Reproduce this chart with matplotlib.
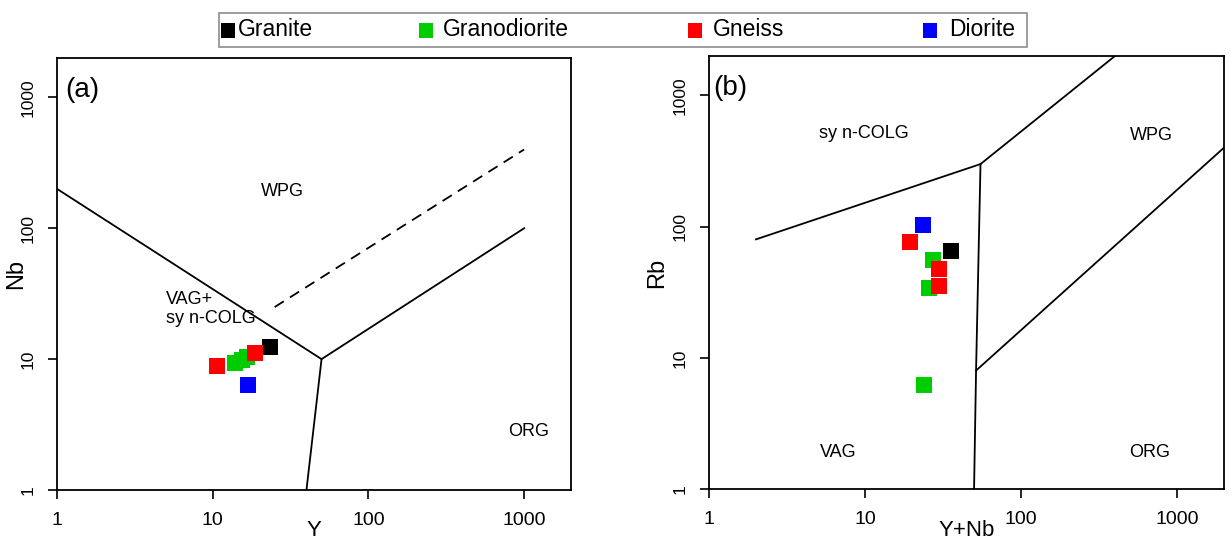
import numpy as np
import matplotlib
matplotlib.use("Agg")
import matplotlib.pyplot as plt
from matplotlib.patches import Rectangle

plt.rcParams['font.family'] = ['Liberation Sans', 'DejaVu Sans']

W, H = 1231, 542

rock_types = ["Granite", "Granodiorite", "Gneiss", "Diorite"]
rock_colors = ["#000000", "#00CD00", "#FF0000", "#0000FF"]

# (a) Nb vs Y
granite_Y = [23.3]
granite_Nb = [12.3]
granodiorite_Y = [14.0, 15.5, 16.7]
granodiorite_Nb = [9.3, 9.9, 10.4]
gneiss_Y = [10.6, 18.7]
gneiss_Nb = [8.8, 11.1]
diorite_Y = [16.9]
diorite_Nb = [6.3]

# (b) Rb vs Y+Nb
granite_YNb = [35.7]
granite_Rb = [64.8]
granodiorite_YNb = [27.4, 25.8, 23.8]
granodiorite_Rb = [56.0, 34.0, 6.2]
gneiss_YNb = [19.3, 29.9, 29.9]
gneiss_Rb = [76.0, 47.7, 35.0]
diorite_YNb = [23.4]
diorite_Rb = [103.6]

# Pearce et al. (1984) field boundaries
a_wpg_x = [1, 50, 1000]
a_wpg_y = [200, 10, 100]
a_org_x = [50, 40]
a_org_y = [10, 1]
a_dash_x = [25, 1000]
a_dash_y = [25, 400]

b_syn_x = [2, 55, 400]
b_syn_y = [80, 300, 2000]
b_vag_x = [55, 51.5, 50]
b_vag_y = [300, 8, 1]
b_org_x = [51.5, 2000]
b_org_y = [8, 400]


def fx(px):
    return px / W


def fy(py):
    return 1 - py / H


fig = plt.figure(figsize=(W / 100, H / 100), dpi=100)
ax1 = fig.add_axes([fx(57), fy(490), fx(571) - fx(57), fy(58) - fy(490)])
ax2 = fig.add_axes([fx(709), fy(489), fx(1224) - fx(709), fy(56) - fy(489)])

for ax in (ax1, ax2):
    ax.set_xscale('log')
    ax.set_yscale('log')
    ax.set_xlim(1, 2000)
    ax.set_ylim(1, 2000)
    ax.set_xticks([1, 10, 100, 1000])
    ax.set_xticklabels(["1", "10", "100", "1000"])
    ax.set_yticks([1, 10, 100, 1000])
    ax.set_yticklabels(["1", "10", "100", "1000"])
    ax.minorticks_off()
    for s in ax.spines.values():
        s.set_linewidth(1.3)
    ax.tick_params(direction='out', length=6.5, width=1.2)
    ax.tick_params(axis='x', labelsize=14, pad=9)
    ax.tick_params(axis='y', labelsize=12.5, pad=9, labelrotation=90)
    for lab in ax.get_yticklabels():
        lab.set_va('center')

lw = 1.3
ax1.plot(a_wpg_x, a_wpg_y, color='black', lw=lw)
ax1.plot(a_org_x, a_org_y, color='black', lw=lw)
ax1.plot(a_dash_x, a_dash_y, color='black', lw=lw, ls=(0, (6, 4)))

ax2.plot(b_syn_x, b_syn_y, color='black', lw=lw)
ax2.plot(b_vag_x, b_vag_y, color='black', lw=lw)
ax2.plot(b_org_x, b_org_y, color='black', lw=lw)

ms = 12
a_sets = [(granite_Y, granite_Nb), (granodiorite_Y, granodiorite_Nb),
          (gneiss_Y, gneiss_Nb), (diorite_Y, diorite_Nb)]
b_sets = [(granite_YNb, granite_Rb), (granodiorite_YNb, granodiorite_Rb),
          (gneiss_YNb, gneiss_Rb), (diorite_YNb, diorite_Rb)]
for (xs, ys), c in zip(a_sets, rock_colors):
    ax1.plot(xs, ys, 's', color=c, ms=ms, mew=0)
for (xs, ys), c in zip(b_sets, rock_colors):
    ax2.plot(xs, ys, 's', color=c, ms=ms, mew=0)

fs = 13
ax1.text(28, 192, "WPG", fontsize=fs, ha='center', va='center')
ax1.text(5.0, 24, "VAG+\nsy n-COLG", fontsize=fs, ha='left', va='center',
         linespacing=1.15)
ax1.text(1069, 2.78, "ORG", fontsize=fs, ha='center', va='center')
ax1.text(0.016, 0.955, "(a)", transform=ax1.transAxes, fontsize=20,
         ha='left', va='top')

ax2.text(9.85, 510, "sy n-COLG", fontsize=fs, ha='center', va='center')
ax2.text(681, 492, "WPG", fontsize=fs, ha='center', va='center')
ax2.text(6.7, 1.89, "VAG", fontsize=fs, ha='center', va='center')
ax2.text(671, 1.89, "ORG", fontsize=fs, ha='center', va='center')
ax2.text(0.008, 0.955, "(b)", transform=ax2.transAxes, fontsize=20,
         ha='left', va='top')

# x labels kept inside the canvas (bottom edge at the last pixel row)
ax1.set_xlabel("Y", fontsize=16, va='bottom')
ax2.set_xlabel("Y+Nb", fontsize=16, va='bottom')
ax1.xaxis.set_label_coords(0.5, (490 - 541) / 432)
ax2.xaxis.set_label_coords(0.5, (489 - 541) / 433)
ax1.set_ylabel("Nb", fontsize=17)
ax2.set_ylabel("Rb", fontsize=17)
ax1.yaxis.set_label_coords(-0.058, 0.5)
ax2.yaxis.set_label_coords(-0.08, 0.5)

# legend box on top
fig.add_artist(Rectangle((fx(219), fy(47)), fx(1027) - fx(219), fy(13) - fy(47),
                         transform=fig.transFigure, facecolor='white',
                         edgecolor='#8c8c8c', lw=1.2))
sq_left = [221, 419, 688, 923]
txt_left = [238, 443, 713, 949]
for name, c, sl, tl in zip(rock_types, rock_colors, sq_left, txt_left):
    fig.add_artist(Rectangle((fx(sl), fy(38)), fx(14), 15 / H,
                             transform=fig.transFigure, facecolor=c,
                             edgecolor='none'))
    fig.text(fx(tl), fy(30), name, fontsize=16.5, ha='left', va='center')

fig.savefig("out.png", dpi=100)
